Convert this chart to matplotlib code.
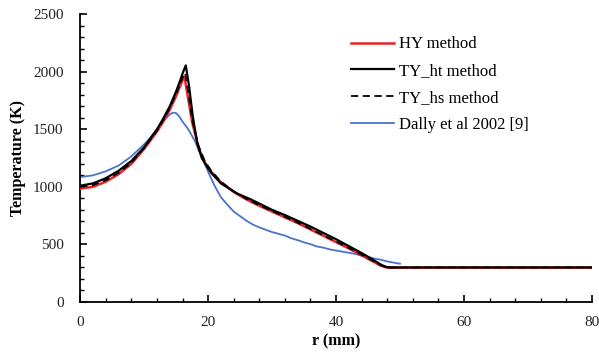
import matplotlib
matplotlib.use("Agg")
import matplotlib.pyplot as plt
from matplotlib.ticker import MultipleLocator

# radial temperature profiles
r_hy = [0, 2, 4, 6, 8, 10, 12, 13, 14, 15, 15.5, 16, 16.3, 16.8, 17.5, 18.5, 19.5, 20.5,
        22, 24, 26, 28, 30, 32, 34, 36, 38, 40, 42, 44, 46, 47, 48, 50, 60, 70, 80]
t_hy = [985, 1000, 1045, 1110, 1200, 1330, 1480, 1570, 1670, 1790, 1860, 1925, 1955, 1790,
        1560, 1340, 1210, 1130, 1040, 955, 890, 835, 785, 735, 685, 630, 575, 520, 465, 405,
        345, 315, 298, 298, 298, 298, 298]

r_ht = [0, 2, 4, 6, 8, 10, 12, 13, 14, 15, 15.5, 16, 16.5, 17, 17.6, 18.3, 19, 19.7, 20.5,
        22, 24.5, 26.5, 28, 30, 32, 34, 36, 38, 40, 42, 44, 46, 47, 47.8, 48.5, 50, 60, 70, 80]
t_ht = [1010, 1030, 1075, 1140, 1225, 1345, 1500, 1595, 1700, 1830, 1905, 1985, 2055, 1880,
        1610, 1380, 1250, 1185, 1120, 1030, 943, 895, 855, 800, 755, 705, 655, 600, 545, 485,
        425, 360, 325, 305, 300, 300, 300, 300, 300]

r_hs = [0, 2, 4, 6, 8, 10, 12, 13, 14, 15, 15.5, 16, 16.4, 16.9, 17.5, 18.5, 19.5, 20.5,
        22, 24, 26, 28, 30, 32, 34, 36, 38, 40, 42, 44, 46, 47, 48, 50, 60, 70, 80]
t_hs = [1000, 1015, 1058, 1122, 1210, 1338, 1490, 1582, 1685, 1810, 1880, 1950, 1990, 1820,
        1580, 1355, 1220, 1138, 1045, 960, 895, 840, 790, 740, 690, 635, 580, 525, 470, 410,
        350, 318, 300, 300, 300, 300, 300]

r_dally = [0, 2, 4, 6, 8, 10, 11, 12, 13, 14, 14.5, 15, 15.5, 16, 16.5, 17, 17.5, 18, 18.5,
           19, 19.5, 20, 20.5, 21, 21.5, 22, 23, 24, 25, 26, 27, 28, 29, 30, 31, 32, 33, 34,
           35, 36, 37, 38, 39, 40, 41, 42, 43, 44, 45, 46, 47, 48, 49, 50]
t_dally = [1085, 1100, 1135, 1185, 1265, 1370, 1430, 1500, 1570, 1630, 1645, 1640, 1610, 1565,
           1530, 1490, 1440, 1390, 1320, 1260, 1200, 1130, 1070, 1010, 960, 910, 845, 785,
           745, 705, 672, 648, 627, 607, 592, 577, 553, 537, 517, 502, 482, 472, 457, 447,
           437, 427, 417, 402, 392, 377, 367, 352, 342, 332]

plt.rcParams["font.family"] = ["Liberation Serif", "DejaVu Serif"]

fig, ax = plt.subplots(figsize=(5.99, 3.54), dpi=100)
fig.subplots_adjust(left=0.134, right=0.988, top=0.96, bottom=0.147)

ax.plot(r_hy, t_hy, color="#e8242a", lw=1.8, label="HY method", zorder=3)
ax.plot(r_ht, t_ht, color="black", lw=1.6, label="TY_ht method", zorder=4)
ax.plot(r_hs, t_hs, color="black", lw=1.3, ls=(0, (4, 2.5)), label="TY_hs method", zorder=5)
ax.plot(r_dally, t_dally, color="#4a74c9", lw=1.3, label="Dally et al 2002 [9]", zorder=2)

ax.set_xlim(0, 80)
ax.set_ylim(0, 2500)
ax.xaxis.set_major_locator(MultipleLocator(20))
ax.xaxis.set_minor_locator(MultipleLocator(4))
ax.yaxis.set_major_locator(MultipleLocator(500))
ax.yaxis.set_minor_locator(MultipleLocator(100))
ax.tick_params(which="major", direction="in", length=5, width=1.2, labelsize=11,
               labelcolor="#222222")
ax.tick_params(axis="x", which="major", pad=10)
ax.tick_params(axis="y", which="major", pad=12)
ax.tick_params(which="minor", direction="in", length=3, width=1.0)

for side in ("top", "right"):
    ax.spines[side].set_visible(False)
for side in ("left", "bottom"):
    ax.spines[side].set_linewidth(1.3)

ax.set_xlabel("r (mm)", fontsize=11.5, fontweight="bold", labelpad=3)
ax.set_ylabel("Temperature (K)", fontsize=11.5, fontweight="bold", labelpad=5)

ax.legend(loc="upper left", bbox_to_anchor=(0.5, 0.975), frameon=False, fontsize=12,
          handlelength=2.6, handletextpad=0.3, labelspacing=0.65)

fig.savefig("out.png", dpi=100)
